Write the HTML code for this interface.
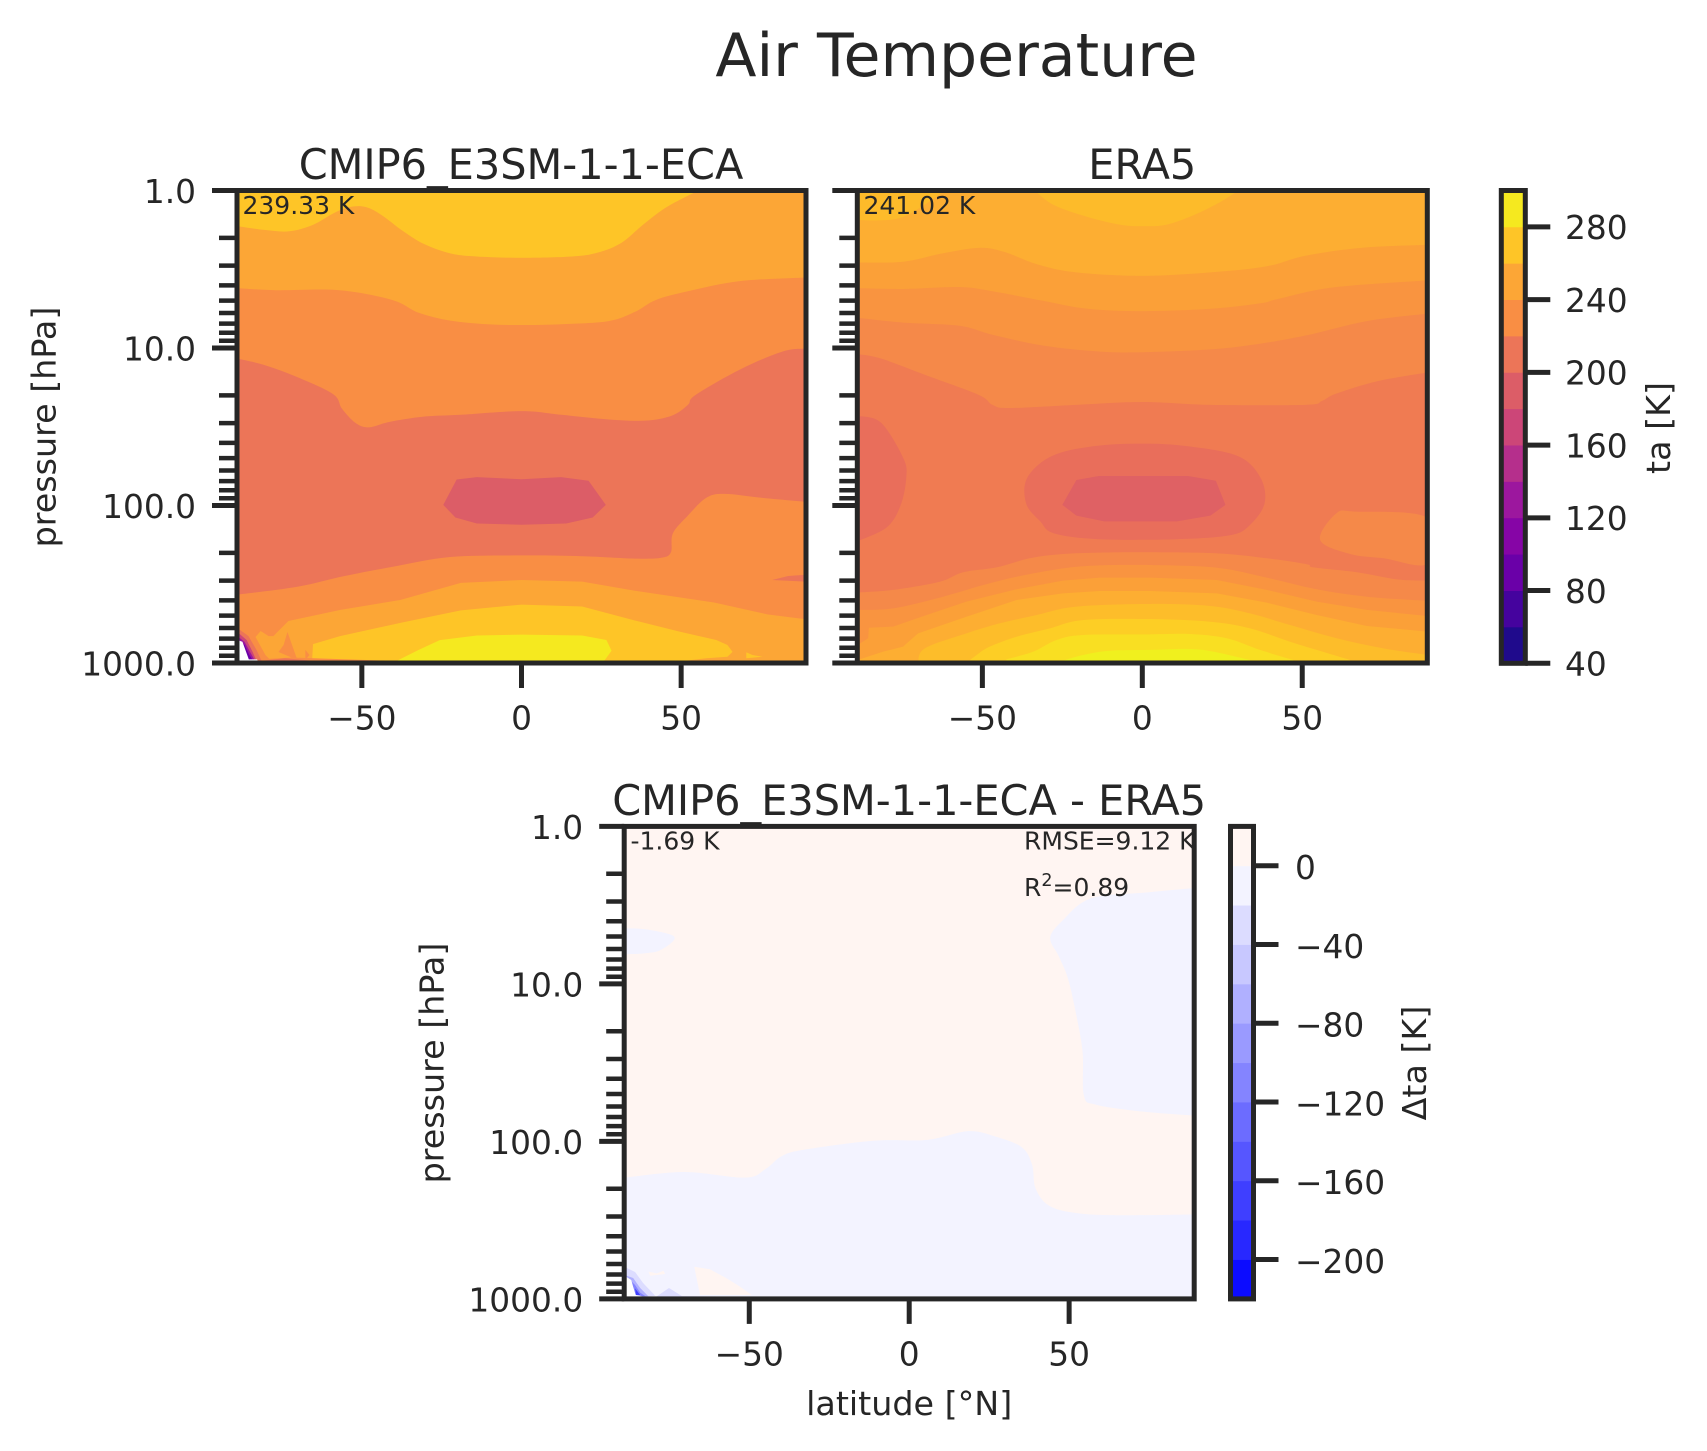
<!DOCTYPE html>
<html lang="en">
<head>
<meta charset="utf-8">
<title>Air Temperature</title>
<style>
html,body{margin:0;padding:0;background:#fff;}
svg{display:block;}
text{font-family:"DejaVu Sans","Liberation Sans",sans-serif;fill:#262626;}
</style>
</head>
<body>
<svg id="figure" xmlns="http://www.w3.org/2000/svg" width="1707" height="1451" viewBox="0 0 1707 1451">
  <rect x="0" y="0" width="1707" height="1451" fill="#ffffff"/>
  <defs>
    <clipPath id="clip-e3sm"><rect x="237" y="190.5" width="569" height="472.5"/></clipPath>
    <clipPath id="clip-era5"><rect x="857.3" y="190.5" width="570" height="472.5"/></clipPath>
    <clipPath id="clip-diff"><rect x="624.2" y="826.4" width="570" height="472.5"/></clipPath>
  </defs>
  <g id="panel-e3sm"></g>
  <g id="panel-era5"></g>
  <g id="panel-diff"></g>
  <g id="cbar-ta"></g>
  <g id="cbar-diff"></g>

  <text x="956.5" y="76" font-size="60.1" text-anchor="middle">Air Temperature</text>
  <text x="521" y="179" font-size="41.45" text-anchor="middle">CMIP6_E3SM-1-1-ECA</text>
  <text x="1142.3" y="179" font-size="41.45" text-anchor="middle">ERA5</text>
  <text x="909.2" y="815" font-size="41.45" text-anchor="middle">CMIP6_E3SM-1-1-ECA - ERA5</text>

  <text transform="translate(55.5 427) rotate(-90)" font-size="33.33" text-anchor="middle">pressure [hPa]</text>
  <text transform="translate(443.5 1063) rotate(-90)" font-size="33.33" text-anchor="middle">pressure [hPa]</text>
  <text x="909.2" y="1415" font-size="33.33" text-anchor="middle">latitude [°N]</text>
  <text transform="translate(1670 428) rotate(-90)" font-size="33.33" text-anchor="middle">ta [K]</text>
  <text transform="translate(1426 1063) rotate(-90)" font-size="33.33" text-anchor="middle">Δta [K]</text>

  <text x="242.5" y="214" font-size="25">239.33 K</text>
  <text x="863.5" y="214" font-size="25">241.02 K</text>
  <text x="630.5" y="849.5" font-size="25">-1.69 K</text>
  <text x="1024" y="849.5" font-size="25">RMSE=9.12 K</text>
  <text x="1024" y="896" font-size="25">R<tspan font-size="17.5" dy="-10">2</tspan><tspan dy="10">=0.89</tspan></text>
</svg>

<script>
// ---------- axis ticks ----------
const latTicks = [-50, 0, 50];
const latTickLabels = ['\u221250', '0', '50'];
const pressureTicks = [1, 10, 100, 1000];
const pressureTickLabels = ['1.0', '10.0', '100.0', '1000.0'];
const pressureDecades = [1, 10, 100];
const minorMultipliers = [2, 3, 4, 5, 6, 7, 8, 9];

// ---------- colorbars ----------
const taLevels = [40, 60, 80, 100, 120, 140, 160, 180, 200, 220, 240, 260, 280, 300];
const taColors = ['#1f0a8c', '#45039e', '#6a00a8', '#8605a6', '#9c179e', '#b52f8c', '#cc4678', '#dc5d67', '#ec7558', '#f98e44', '#fca636', '#fec527', '#f5e91f'];
const taTicks = [40, 80, 120, 160, 200, 240, 280];
const diffLevels = [-220, -200, -180, -160, -140, -120, -100, -80, -60, -40, -20, 0, 20];
const diffColors = ['#0c0cff', '#2828ff', '#3f3fff', '#5656ff', '#6c6cff', '#8484ff', '#9a9aff', '#b0b0ff', '#c8c8ff', '#dcdcff', '#f3f3ff', '#fff5f2'];
const diffTicks = [-200, -160, -120, -80, -40, 0];

// ---------- E3SM contour boundaries: latitude (deg N) and log10(pressure/hPa) ----------
const e3smGoldTopLat = [-89, -80.2, -72.7, -65.3, -58.7, -53.7, -48.8, -43.8, -37.2, -30.6, -22.3, -14, 0, 15.7, 24, 31.4, 38, 45.5, 55.4];
const e3smGoldTopLogP = [0.226, 0.251, 0.259, 0.218, 0.143, 0.105, 0.105, 0.156, 0.256, 0.339, 0.399, 0.419, 0.427, 0.419, 0.394, 0.331, 0.218, 0.105, 0];
const e3sm220UpperLat = [-89, -76.9, -57, -40.5, -32.2, -22.3, -10.7, 0, 12.4, 27.3, 35.5, 42.1, 52.1, 68.6, 89];
const e3sm220UpperLogP = [0.62, 0.633, 0.633, 0.695, 0.776, 0.826, 0.849, 0.854, 0.849, 0.829, 0.771, 0.695, 0.64, 0.575, 0.552];
const e3sm200UpperLat = [-89, -80.2, -70.2, -59, -56.2, -52.1, -47.9, -41.3, -30.6, -19, 0, 12.4, 27.3, 38.8, 47.1, 52.1, 54.5, 68.6, 81.8, 89];
const e3sm200UpperLogP = [1.067, 1.11, 1.185, 1.293, 1.386, 1.474, 1.504, 1.469, 1.436, 1.424, 1.401, 1.424, 1.454, 1.461, 1.429, 1.361, 1.298, 1.135, 1.022, 1.004];
const e3smCoreLat = [-20.3, -14, 0, 12.4, 21, 26.4, 22.3, 14, 0, -14, -20.7, -24.5];
const e3smCoreLogP = [1.835, 1.82, 1.833, 1.82, 1.843, 1.996, 2.076, 2.114, 2.122, 2.114, 2.076, 1.996];
const e3sm200LowerLat = [-89, -70.2, -55.4, -40.5, -22.3, 0, 19, 35.5, 43.8, 46.8, 47.4, 52.1, 57.9, 63.6, 75.2, 89];
const e3sm200LowerLogP = [2.566, 2.516, 2.448, 2.39, 2.327, 2.317, 2.322, 2.337, 2.332, 2.297, 2.177, 2.064, 1.951, 1.926, 1.951, 1.976];
const e3smRightBlobLat = [78.5, 83.5, 89, 89, 83.5];
const e3smRightBlobLogP = [2.473, 2.448, 2.44, 2.483, 2.478];
const e3sm240LowerLat = [-78, -80.2, -83.3, -81.7, -79.2, -77.7, -73, -56.7, -38, -19, 0, 19, 35.5, 60.3, 77, 89];
const e3sm240LowerLogP = [2.994, 2.949, 2.835, 2.797, 2.829, 2.829, 2.733, 2.663, 2.6, 2.491, 2.473, 2.483, 2.541, 2.616, 2.691, 2.722];
const e3smPeakLat = [-73.3, -70.2, -76.1, -74.5];
const e3smPeakLogP = [2.803, 2.981, 2.93, 2.886];
const e3smNotchLat = [-67.7, -66.4, -67.7];
const e3smNotchLogP = [2.917, 2.949, 2.981];
const e3smGoldLowerLat = [-65.6, -65.3, -57, -37.2, -19, 0, 19, 35.5, 49.5, 61, 64.5, 66.1, 64.5, 57.9, 51.7, 30, -65.6];
const e3smGoldLowerLogP = [2.993, 2.88, 2.83, 2.742, 2.666, 2.629, 2.641, 2.73, 2.801, 2.854, 2.886, 2.929, 2.96, 2.97, 2.985, 3, 3];
const e3smGoldSpeckLat = [70.4, 72.3, 75.5, 70.4];
const e3smGoldSpeckLogP = [2.932, 2.949, 2.96, 2.97];
const e3smYellowLat = [-39.7, -32.2, -25.6, -14, 0, 19, 26.6, 28.2, 26.1, 25, -39.7];
const e3smYellowLogP = [2.993, 2.917, 2.855, 2.825, 2.82, 2.825, 2.854, 2.922, 2.981, 3, 3];
const e3smSurfaceLeftLat = [-80, -72, -50, -30, -30, -80];
const e3smSurfaceLeftLogP = [2.975, 2.965, 2.98, 2.992, 3, 3];
const e3smSurfaceRedLat = [-81, -74, -66, -60, -60, -81];
const e3smSurfaceRedLogP = [2.985, 2.97, 2.985, 2.992, 3, 3];
const e3smSurfaceRightLat = [52, 60, 70, 80, 80, 52];
const e3smSurfaceRightLogP = [2.993, 2.982, 2.985, 2.993, 3, 3];
const e3smPoleRedLat = [-89, -85.5, -83, -81.1, -89];
const e3smPoleRedLogP = [2.778, 2.829, 2.917, 3, 3];
const e3smPoleMagentaLat = [-89, -86.1, -84.2, -82.7, -89];
const e3smPoleMagentaLogP = [2.803, 2.854, 2.93, 3, 3];
const e3smPolePurpleLat = [-89, -86.7, -84.8, -83.6, -89];
const e3smPolePurpleLogP = [2.829, 2.867, 2.937, 2.981, 3];
const e3smPoleDeepLat = [-88, -86.7, -85.2, -84.2, -85.5, -88];
const e3smPoleDeepLogP = [2.86, 2.886, 2.949, 2.981, 2.981, 2.886];
const e3smPoleMissingLat = [-89, -87.4, -86.1, -85.4, -82.8, -82.3, -89];
const e3smPoleMissingLogP = [2.854, 2.865, 2.938, 2.977, 2.977, 3, 3];

// ---------- ERA5 contour boundaries ----------
const eraTopCenterLat = [-33.7, -27.6, -17.1, -6.6, 0, 7.3, 16.1, 24.8, 30];
const eraTopCenterLogP = [0, 0.093, 0.168, 0.218, 0.226, 0.218, 0.156, 0.068, 0];
const eraTopLeftLat = [-89, -82, -75.8, -69.6, -61.7];
const eraTopLeftLogP = [0.187, 0.19, 0.175, 0.111, 0];
const era1UpperLat = [-89, -74.7, -62.5, -51.1, -43.3, -32.8, -20.6, 0, 21.3, 38.7, 51, 68.4, 89.4];
const era1UpperLogP = [0.457, 0.452, 0.399, 0.364, 0.389, 0.469, 0.52, 0.542, 0.52, 0.482, 0.414, 0.364, 0.344];
const era2UpperLat = [-89, -74.7, -57.2, -46.8, -31.1, -17.1, 0, 21.3, 37, 42.2, 59.7, 89.4];
const era2UpperLogP = [0.62, 0.625, 0.613, 0.64, 0.7, 0.751, 0.766, 0.751, 0.716, 0.69, 0.615, 0.57];
const era3UpperLat = [-89, -74.7, -57.2, -46.8, -31.1, -13.6, 0, 21.3, 37, 51, 70.2, 89.4];
const era3UpperLogP = [0.808, 0.839, 0.859, 0.916, 0.984, 1.022, 1.027, 1.009, 0.972, 0.921, 0.829, 0.781];
const era4UpperLat = [-89, -81.7, -67.7, -51.1, -46.8, -41.5, -20.6, 0, 21.3, 51, 56.2, 60.6, 73.6, 89.4];
const era4UpperLogP = [1.039, 1.067, 1.172, 1.298, 1.361, 1.381, 1.361, 1.343, 1.361, 1.361, 1.336, 1.29, 1.21, 1.155];
const eraLeftBlobLat = [-89, -81.7, -74.7, -73.8, -75.6, -79.9, -89];
const eraLeftBlobLogP = [1.431, 1.474, 1.7, 1.825, 2.001, 2.139, 2.227];
const eraRingLat = [0, 14.3, 30, 37, 38.2, 33.5, 27.4, 10.8, -13.6, -27.6, -31.9, -36.3, -36, -28.4, -15.4];
const eraRingLogP = [1.607, 1.624, 1.687, 1.825, 1.988, 2.127, 2.189, 2.214, 2.214, 2.177, 2.101, 1.988, 1.825, 1.687, 1.624];
const eraCoreLat = [-20.6, -13.6, 14.3, 23, 26, 21.3, 10.8, -11.9, -20.6, -25];
const eraCoreLogP = [1.838, 1.813, 1.813, 1.843, 1.996, 2.064, 2.101, 2.101, 2.064, 1.996];
const eraRightBlobLat = [55.6, 60.6, 66.7, 89.4, 89.4, 75.4, 65];
const eraRightBlobLogP = [2.219, 2.051, 2.039, 2.081, 2.367, 2.335, 2.308];
const eraLowerALat = [-89, -77.9, -63.3, -56, -45.6, -35.2, -24.8, -13.3, 2.4, 23.3, 38.9, 51.4, 53.5, 67.1, 79.6, 89.4];
const eraLowerALogP = [2.553, 2.536, 2.484, 2.424, 2.393, 2.335, 2.308, 2.299, 2.297, 2.304, 2.335, 2.373, 2.393, 2.424, 2.469, 2.477];
const eraLowerBLat = [-89, -77.9, -62.3, -49.7, -39.3, -24.8, -13.3, 2.4, 23.3, 38.9, 54.5, 70.2, 89.4];
const eraLowerBLogP = [2.663, 2.653, 2.579, 2.505, 2.452, 2.399, 2.38, 2.378, 2.395, 2.458, 2.532, 2.579, 2.606];
const eraLowerCLat = [-89, -85.7, -85.5, -77.9, -69.6, -55, -39.3, -24.8, -13.3, 2.4, 23.3, 38.9, 54.5, 70.2, 89.4];
const eraLowerCLogP = [2.886, 2.843, 2.776, 2.769, 2.71, 2.61, 2.532, 2.477, 2.458, 2.458, 2.473, 2.536, 2.61, 2.663, 2.702];
const eraLowerDLat = [-89, -81, -74.8, -70.1, -55, -39.3, -24.8, -13.3, 2.4, 23.3, 38.9, 54.5, 70.2, 89.4];
const eraLowerDLogP = [2.981, 2.928, 2.896, 2.812, 2.706, 2.6, 2.558, 2.543, 2.543, 2.558, 2.617, 2.695, 2.765, 2.801];
const eraLowerELat = [-70.1, -68, -55, -44.5, -33, -20.6, 2.4, 21.2, 33.7, 46.2, 60.8, 75.4, 89.4];
const eraLowerELogP = [3, 2.907, 2.812, 2.748, 2.695, 2.642, 2.625, 2.638, 2.685, 2.759, 2.843, 2.907, 2.949];
const eraLowerFLat = [-55, -51.8, -47.7, -39.3, -28.9, -18.5, 2.4, 21.2, 33.7, 46.2, 54.5, 65];
const eraLowerFLogP = [3, 2.949, 2.896, 2.833, 2.78, 2.727, 2.721, 2.738, 2.78, 2.865, 2.917, 2.981];
const eraLowerGLat = [-42.5, -34.1, -26.8, -18.5, 2.4, 14.9, 26.4, 36.8, 47.2];
const eraLowerGLogP = [2.977, 2.928, 2.854, 2.822, 2.818, 2.816, 2.843, 2.917, 2.981];
const eraLowerHLat = [-24.8, -18.5, -10.2, 2.4, 14.9, 22.2, 33.7];
const eraLowerHLogP = [2.985, 2.949, 2.922, 2.917, 2.911, 2.928, 2.981];

// ---------- difference contour boundaries ----------
const diffRightLat = [89, 73.2, 60.5, 54.2, 48.9, 44.1, 46.8, 49.6, 52.1, 54.2, 54.6, 58.4, 73.2, 89];
const diffRightLogP = [0.391, 0.421, 0.44, 0.482, 0.578, 0.702, 0.826, 0.963, 1.184, 1.431, 1.707, 1.767, 1.811, 1.836];
const diffLeftLat = [-89, -81.9, -73.4, -77.6, -82.9, -89];
const diffLeftLogP = [0.647, 0.655, 0.702, 0.784, 0.806, 0.812];
const diffLowerLat = [-89, -70.3, -51.3, -44.9, -39.7, -32.3, -11.2, 5.7, 18.4, 26.8, 35.2, 38.4, 39.5, 43.7, 52.1, 64.8, 89];
const diffLowerLogP = [2.23, 2.194, 2.23, 2.175, 2.092, 2.051, 1.996, 1.99, 1.935, 1.968, 2.037, 2.147, 2.298, 2.408, 2.455, 2.469, 2.464];
const diffWarmPatchLat = [-67.2, -62.3, -57.1, -52.9, -49.2, -65.4];
const diffWarmPatchLogP = [2.796, 2.812, 2.869, 2.922, 2.975, 2.975];
const diffWarmSpeckLat = [-81.5, -78.9, -76.8, -76.3, -81];
const diffWarmSpeckLogP = [2.827, 2.838, 2.821, 2.842, 2.853];
const diffSurfaceLeftLat = [-79, -75.1, -71, -60, -40, -40, -79];
const diffSurfaceLeftLogP = [2.985, 2.931, 2.982, 2.985, 2.993, 3, 3];
const diffSurfaceRightLat = [33, 50, 62, 72, 72, 33];
const diffSurfaceRightLogP = [2.995, 2.99, 2.985, 2.995, 3, 3];
const diffPole40Lat = [-89, -85.7, -83.2, -79.4, -89];
const diffPole40LogP = [2.797, 2.829, 2.899, 2.98, 3];
const diffPole60Lat = [-89, -86.3, -84.1, -81.6, -89];
const diffPole60LogP = [2.848, 2.867, 2.931, 2.982, 3];
const diffPole120Lat = [-87.3, -85.7, -84.1, -82.5, -87.3];
const diffPole120LogP = [2.88, 2.912, 2.96, 2.982, 2.982];
const diffPole200Lat = [-85.7, -84.1, -85.4];
const diffPole200LogP = [2.933, 2.975, 2.975];
const diffPoleMissingLat = [-89, -86.9, -86.3, -85.5, -83.5, -89];
const diffPoleMissingLogP = [2.853, 2.88, 2.923, 2.975, 2.982, 3];

// ---------- helpers ----------
const SVG_NS = 'http://www.w3.org/2000/svg';
const INK = '#262626';

function makeAxes(left, right, top, bottom) {
  const latMin = -89.1;
  const latMax = 89.1;
  return {
    left: left,
    right: right,
    top: top,
    bottom: bottom,
    x: function (lat) { return left + (lat - latMin) / (latMax - latMin) * (right - left); },
    y: function (logP) { return top + logP / 3 * (bottom - top); }
  };
}

function line(parent, name, x1, y1, x2, y2, width) {
  const el = document.createElementNS(SVG_NS, 'line');
  
  
  el.setAttribute('x1', x1);
  el.setAttribute('y1', y1);
  el.setAttribute('x2', x2);
  el.setAttribute('y2', y2);
  el.setAttribute('stroke', INK);
  el.setAttribute('stroke-width', width);
  parent.appendChild(el);
  return el;
}

function label(parent, name, x, y, str, anchor) {
  const el = document.createElementNS(SVG_NS, 'text');
  
  
  el.setAttribute('x', x);
  el.setAttribute('y', y);
  el.setAttribute('font-size', '32.8');
  el.setAttribute('text-anchor', anchor);
  el.textContent = str;
  parent.appendChild(el);
  return el;
}

function fmt(v) { return v.toFixed(2); }

function curvePath(pts, smooth, wrap) {
  let d = 'M' + fmt(pts[0][0]) + ' ' + fmt(pts[0][1]);
  const n = pts.length;
  const segs = wrap ? n : n - 1;
  for (let i = 0; i < segs; i++) {
    const at = function (k) {
      if (wrap) { return pts[(k + n) % n]; }
      return pts[Math.max(0, Math.min(n - 1, k))];
    };
    const p0 = at(i - 1);
    const p1 = at(i);
    const p2 = at(i + 1);
    const p3 = at(i + 2);
    if (smooth) {
      const c1x = p1[0] + (p2[0] - p0[0]) / 6;
      const c1y = p1[1] + (p2[1] - p0[1]) / 6;
      const c2x = p2[0] - (p3[0] - p1[0]) / 6;
      const c2y = p2[1] - (p3[1] - p1[1]) / 6;
      d += 'C' + fmt(c1x) + ' ' + fmt(c1y) + ' ' + fmt(c2x) + ' ' + fmt(c2y) + ' ' + fmt(p2[0]) + ' ' + fmt(p2[1]);
    } else {
      d += 'L' + fmt(p2[0]) + ' ' + fmt(p2[1]);
    }
  }
  return d;
}

// mode: 'below' closes to the panel bottom, 'above' closes to the panel top,
// 'closed' is a free shape, 'loop' is a smooth closed shape
function region(group, axes, name, lats, logPs, color, mode, smooth) {
  const pts = lats.map(function (lat, i) { return [axes.x(lat), axes.y(logPs[i])]; });
  let d = curvePath(pts, smooth, mode === 'loop');
  const first = pts[0];
  const last = pts[pts.length - 1];
  if (mode === 'below') {
    d += 'L' + fmt(last[0]) + ' ' + (axes.bottom + 4) + 'L' + fmt(first[0]) + ' ' + (axes.bottom + 4);
  } else if (mode === 'above') {
    d += 'L' + fmt(last[0]) + ' ' + (axes.top - 4) + 'L' + fmt(first[0]) + ' ' + (axes.top - 4);
  }
  d += 'Z';
  const el = document.createElementNS(SVG_NS, 'path');
  
  
  el.setAttribute('d', d);
  el.setAttribute('fill', color);
  group.appendChild(el);
  return el;
}

function baseFill(group, axes, name, color) {
  const el = document.createElementNS(SVG_NS, 'rect');
  
  
  el.setAttribute('x', axes.left);
  el.setAttribute('y', axes.top);
  el.setAttribute('width', axes.right - axes.left);
  el.setAttribute('height', axes.bottom - axes.top);
  el.setAttribute('fill', color);
  group.appendChild(el);
}

function drawFrame(parent, axes, showPressureLabels) {
  latTicks.forEach(function (lat, i) {
    const x = axes.x(lat);
    line(parent, 'x-tick', x, axes.bottom, x, axes.bottom + 25, 5);
    label(parent, 'x-tick-label', x, axes.bottom + 66.5, latTickLabels[i], 'middle');
  });
  pressureDecades.forEach(function (decade) {
    minorMultipliers.forEach(function (m) {
      const y = axes.y(Math.log10(decade * m));
      line(parent, 'y-minor-tick', axes.left - 18, y, axes.left, y, 4.5);
    });
  });
  pressureTicks.forEach(function (p, i) {
    const y = axes.y(Math.log10(p));
    line(parent, 'y-tick', axes.left - 25, y, axes.left, y, 5);
    if (showPressureLabels) {
      label(parent, 'y-tick-label', axes.left - 41, y + 12.4, pressureTickLabels[i], 'end');
    }
  });
  const frame = document.createElementNS(SVG_NS, 'rect');
  
  
  frame.setAttribute('x', axes.left);
  frame.setAttribute('y', axes.top);
  frame.setAttribute('width', axes.right - axes.left);
  frame.setAttribute('height', axes.bottom - axes.top);
  frame.setAttribute('fill', 'none');
  frame.setAttribute('stroke', INK);
  frame.setAttribute('stroke-width', 5);
  parent.appendChild(frame);
}

function drawColorbar(parent, levels, colors, ticks, left, right, top, bottom, labelX, labelDy) {
  const low = levels[0];
  const high = levels[levels.length - 1];
  const yOf = function (v) { return bottom - (v - low) / (high - low) * (bottom - top); };
  colors.forEach(function (color, i) {
    const r = document.createElementNS(SVG_NS, 'rect');
    
    
    r.setAttribute('x', left);
    r.setAttribute('y', yOf(levels[i + 1]));
    r.setAttribute('width', right - left);
    r.setAttribute('height', yOf(levels[i]) - yOf(levels[i + 1]) + 0.4);
    r.setAttribute('fill', color);
    parent.appendChild(r);
  });
  ticks.forEach(function (v) {
    const y = yOf(v);
    line(parent, 'colorbar-tick', right, y, right + 25, y, 5);
    label(parent, 'colorbar-tick-label', labelX, y + labelDy, String(v).replace('-', '\u2212'), 'start');
  });
  const frame = document.createElementNS(SVG_NS, 'rect');
  
  
  frame.setAttribute('x', left);
  frame.setAttribute('y', top);
  frame.setAttribute('width', right - left);
  frame.setAttribute('height', bottom - top);
  frame.setAttribute('fill', 'none');
  frame.setAttribute('stroke', INK);
  frame.setAttribute('stroke-width', 5);
  parent.appendChild(frame);
}

function clipGroup(parent, clipId, name) {
  const g = document.createElementNS(SVG_NS, 'g');
  
  
  g.setAttribute('clip-path', 'url(#' + clipId + ')');
  parent.appendChild(g);
  return g;
}

// ---------- E3SM panel ----------
const e3smAxes = makeAxes(237, 806, 190.5, 663);
const e3smRoot = document.getElementById('panel-e3sm');
const e3smG = clipGroup(e3smRoot, 'clip-e3sm', 'e3sm-contours');
baseFill(e3smG, e3smAxes, 'contour-240-260', '#fca636');
region(e3smG, e3smAxes, 'contour-260-280-top', e3smGoldTopLat, e3smGoldTopLogP, '#fec527', 'above', true);
region(e3smG, e3smAxes, 'contour-220-240-upper', e3sm220UpperLat, e3sm220UpperLogP, '#f98e44', 'below', true);
region(e3smG, e3smAxes, 'contour-200-220', e3sm200UpperLat, e3sm200UpperLogP, '#ec7558', 'below', true);
region(e3smG, e3smAxes, 'contour-180-200-core', e3smCoreLat, e3smCoreLogP, '#dc5d67', 'closed', false);
region(e3smG, e3smAxes, 'contour-220-240-lower', e3sm200LowerLat, e3sm200LowerLogP, '#f98e44', 'below', true);
region(e3smG, e3smAxes, 'contour-200-220-right-blob', e3smRightBlobLat, e3smRightBlobLogP, '#ec7558', 'closed', false);
region(e3smG, e3smAxes, 'contour-240-260-lower', e3sm240LowerLat, e3sm240LowerLogP, '#fca636', 'below', false);
region(e3smG, e3smAxes, 'contour-220-240-peak', e3smPeakLat, e3smPeakLogP, '#f98e44', 'closed', false);
region(e3smG, e3smAxes, 'contour-220-240-notch', e3smNotchLat, e3smNotchLogP, '#f98e44', 'closed', false);
region(e3smG, e3smAxes, 'contour-260-280-lower', e3smGoldLowerLat, e3smGoldLowerLogP, '#fec527', 'closed', false);
region(e3smG, e3smAxes, 'contour-260-280-speck', e3smGoldSpeckLat, e3smGoldSpeckLogP, '#fec527', 'closed', false);
region(e3smG, e3smAxes, 'contour-280-300', e3smYellowLat, e3smYellowLogP, '#f5e91f', 'closed', false);
region(e3smG, e3smAxes, 'surface-band-left', e3smSurfaceLeftLat, e3smSurfaceLeftLogP, '#f98e44', 'closed', false);
region(e3smG, e3smAxes, 'surface-band-left-red', e3smSurfaceRedLat, e3smSurfaceRedLogP, '#ec7558', 'closed', false);
region(e3smG, e3smAxes, 'surface-band-right', e3smSurfaceRightLat, e3smSurfaceRightLogP, '#f98e44', 'closed', false);
region(e3smG, e3smAxes, 'pole-contour-red', e3smPoleRedLat, e3smPoleRedLogP, '#ec7558', 'closed', false);
region(e3smG, e3smAxes, 'pole-contour-magenta', e3smPoleMagentaLat, e3smPoleMagentaLogP, '#cc4678', 'closed', false);
region(e3smG, e3smAxes, 'pole-contour-purple', e3smPolePurpleLat, e3smPolePurpleLogP, '#9c179e', 'closed', false);
region(e3smG, e3smAxes, 'pole-contour-deep', e3smPoleDeepLat, e3smPoleDeepLogP, '#6a00a8', 'closed', false);
region(e3smG, e3smAxes, 'pole-missing-data', e3smPoleMissingLat, e3smPoleMissingLogP, '#ffffff', 'closed', false);
drawFrame(e3smRoot, e3smAxes, true);

// ---------- ERA5 panel ----------
const eraAxes = makeAxes(857.3, 1427.3, 190.5, 663);
const eraRoot = document.getElementById('panel-era5');
const eraG = clipGroup(eraRoot, 'clip-era5', 'era5-contours');
baseFill(eraG, eraAxes, 'contour-top-base', '#fdae32');
region(eraG, eraAxes, 'contour-top-center', eraTopCenterLat, eraTopCenterLogP, '#fdbb2a', 'above', true);
region(eraG, eraAxes, 'contour-top-left', eraTopLeftLat, eraTopLeftLogP, '#fdbb2a', 'above', true);
region(eraG, eraAxes, 'contour-upper-1', era1UpperLat, era1UpperLogP, '#fba038', 'below', true);
region(eraG, eraAxes, 'contour-upper-2', era2UpperLat, era2UpperLogP, '#f99440', 'below', true);
region(eraG, eraAxes, 'contour-upper-3', era3UpperLat, era3UpperLogP, '#f58949', 'below', true);
region(eraG, eraAxes, 'contour-upper-4', era4UpperLat, era4UpperLogP, '#f07b52', 'below', true);
region(eraG, eraAxes, 'contour-left-blob', eraLeftBlobLat, eraLeftBlobLogP, '#e96e5b', 'closed', true);
region(eraG, eraAxes, 'contour-tropopause-ring', eraRingLat, eraRingLogP, '#e96e5b', 'loop', true);
region(eraG, eraAxes, 'contour-tropopause-core', eraCoreLat, eraCoreLogP, '#df6164', 'closed', false);
region(eraG, eraAxes, 'contour-right-blob', eraRightBlobLat, eraRightBlobLogP, '#f58949', 'loop', true);
region(eraG, eraAxes, 'contour-lower-a', eraLowerALat, eraLowerALogP, '#f58949', 'below', true);
region(eraG, eraAxes, 'contour-lower-b', eraLowerBLat, eraLowerBLogP, '#f99440', 'below', true);
region(eraG, eraAxes, 'contour-lower-c', eraLowerCLat, eraLowerCLogP, '#fba038', 'below', false);
region(eraG, eraAxes, 'contour-lower-d', eraLowerDLat, eraLowerDLogP, '#fdae32', 'below', false);
region(eraG, eraAxes, 'contour-lower-e', eraLowerELat, eraLowerELogP, '#fdbd2a', 'below', true);
region(eraG, eraAxes, 'contour-lower-f', eraLowerFLat, eraLowerFLogP, '#fdce25', 'below', true);
region(eraG, eraAxes, 'contour-lower-g', eraLowerGLat, eraLowerGLogP, '#f9df22', 'below', true);
region(eraG, eraAxes, 'contour-lower-h', eraLowerHLat, eraLowerHLogP, '#f0f01e', 'below', true);
drawFrame(eraRoot, eraAxes, false);

// ---------- difference panel ----------
const diffAxes = makeAxes(624.2, 1194.2, 826.4, 1298.9);
const diffRoot = document.getElementById('panel-diff');
const diffG = clipGroup(diffRoot, 'clip-diff', 'difference-contours');
baseFill(diffG, diffAxes, 'contour-0-20', '#fff5f2');
region(diffG, diffAxes, 'contour-cold-right', diffRightLat, diffRightLogP, '#f3f3ff', 'closed', true);
region(diffG, diffAxes, 'contour-cold-left', diffLeftLat, diffLeftLogP, '#f3f3ff', 'closed', true);
region(diffG, diffAxes, 'contour-cold-lower', diffLowerLat, diffLowerLogP, '#f3f3ff', 'below', true);
region(diffG, diffAxes, 'contour-warm-patch', diffWarmPatchLat, diffWarmPatchLogP, '#fff5f2', 'closed', false);
region(diffG, diffAxes, 'contour-warm-speck', diffWarmSpeckLat, diffWarmSpeckLogP, '#fff5f2', 'closed', false);
region(diffG, diffAxes, 'surface-cold-left', diffSurfaceLeftLat, diffSurfaceLeftLogP, '#dcdcff', 'closed', false);
region(diffG, diffAxes, 'surface-cold-right', diffSurfaceRightLat, diffSurfaceRightLogP, '#dcdcff', 'closed', false);
region(diffG, diffAxes, 'pole-diff-40', diffPole40Lat, diffPole40LogP, '#dcdcff', 'closed', false);
region(diffG, diffAxes, 'pole-diff-60', diffPole60Lat, diffPole60LogP, '#b0b0ff', 'closed', false);
region(diffG, diffAxes, 'pole-diff-120', diffPole120Lat, diffPole120LogP, '#8484ff', 'closed', false);
region(diffG, diffAxes, 'pole-diff-200', diffPole200Lat, diffPole200LogP, '#3f3fff', 'closed', false);
region(diffG, diffAxes, 'pole-diff-missing', diffPoleMissingLat, diffPoleMissingLogP, '#ffffff', 'closed', false);
drawFrame(diffRoot, diffAxes, true);

// ---------- colorbars ----------
drawColorbar(document.getElementById('cbar-ta'), taLevels, taColors, taTicks, 1501.3, 1525.3, 190.5, 663.3, 1565, 12.2);
drawColorbar(document.getElementById('cbar-diff'), diffLevels, diffColors, diffTicks, 1230.5, 1253.5, 826.4, 1298.9, 1295, 13.4);
</script>
</body>
</html>
